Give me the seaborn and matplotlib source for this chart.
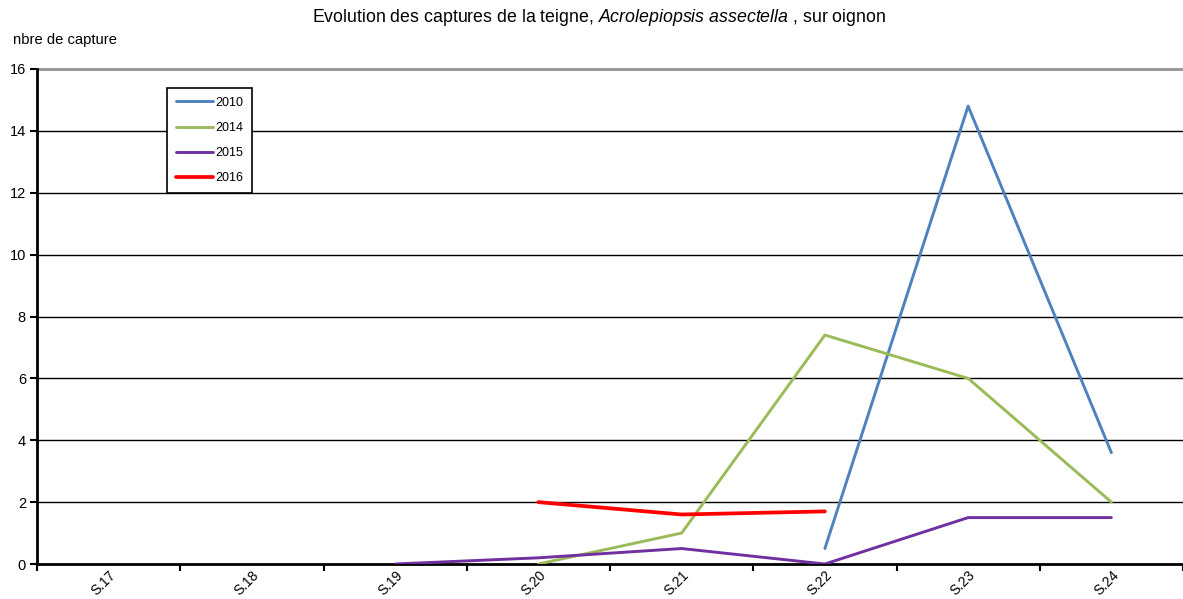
import seaborn as sns
import matplotlib.pyplot as plt
import pandas as pd
import numpy as np
from matplotlib.ticker import FixedLocator, NullFormatter

weeks = ["S.17", "S.18", "S.19", "S.20", "S.21", "S.22", "S.23", "S.24"]
y2010 = [np.nan, np.nan, np.nan, np.nan, np.nan, 0.5, 14.8, 3.6]
y2014 = [np.nan, np.nan, np.nan, 0.0, 1.0, 7.4, 6.0, 2.0]
y2015 = [np.nan, np.nan, 0.0, 0.2, 0.5, 0.0, 1.5, 1.5]
y2016 = [np.nan, np.nan, np.nan, 2.0, 1.6, 1.7, np.nan, np.nan]
years = ["2010", "2014", "2015", "2016"]
colors = ["#4F81BD", "#9BBB59", "#7030A0", "#FF0000"]
widths = [2.1, 2.1, 2.1, 2.7]

sns.set_style("white")
plt.rcParams['font.family'] = ['Liberation Sans', 'DejaVu Sans']
plt.rcParams['mathtext.fontset'] = 'custom'
plt.rcParams['mathtext.rm'] = 'Liberation Sans'
plt.rcParams['mathtext.it'] = 'Liberation Sans:italic'
for k in ['text.color', 'xtick.color', 'ytick.color', 'axes.labelcolor']:
    plt.rcParams[k] = 'black'

df = pd.DataFrame({"week": weeks, "2010": y2010, "2014": y2014, "2015": y2015, "2016": y2016})
df["pos"] = range(len(weeks))
long = df.melt(id_vars=["week", "pos"], value_vars=years, var_name="annee", value_name="n").dropna()

fig = plt.figure(figsize=(11.83, 5.99), dpi=100)
ax = fig.add_axes([37 / 1183, 1 - 564 / 599, 1 - 37 / 1183, (564 - 69) / 599])

for yr, c, lw in zip(years, colors, widths):
    sub = long[long["annee"] == yr]
    sns.lineplot(data=sub, x="pos", y="n", ax=ax, color=c, linewidth=lw, label=yr, zorder=4)

ax.set_xlim(-0.5, len(weeks) - 0.5)
ax.set_ylim(0, 16)
ax.set_yticks(range(0, 17, 2))
for v in range(2, 16, 2):
    ax.axhline(v, color="black", linewidth=1.0, zorder=1)
ax.axhline(16, color="#999999", linewidth=2.2, zorder=1, clip_on=False)

ax.xaxis.set_major_locator(FixedLocator(np.arange(-0.5, len(weeks), 1)))
ax.xaxis.set_major_formatter(NullFormatter())
ax.xaxis.set_minor_locator(FixedLocator(range(len(weeks))))
ax.set_xticklabels(weeks, minor=True, rotation=45, ha="right", va="top", rotation_mode="anchor", fontsize=10)
ax.tick_params(axis="x", which="major", direction="out", length=5, width=1.5, color="black", bottom=True)
ax.tick_params(axis="x", which="minor", length=0, pad=3)
ax.tick_params(axis="y", direction="out", length=5, width=1.5, color="black", left=True, labelsize=10.5, pad=3)

for s in ["top", "right"]:
    ax.spines[s].set_visible(False)
ax.spines["left"].set_color("black")
ax.spines["left"].set_linewidth(2)
ax.spines["bottom"].set_color("black")
ax.spines["bottom"].set_linewidth(2)
ax.set_xlabel("")
ax.set_ylabel("")

leg = ax.legend(loc="upper left", bbox_to_anchor=(167 / 1183, 1 - 88 / 599), bbox_transform=fig.transFigure,
                fontsize=9, frameon=True, fancybox=False, framealpha=1, edgecolor="black",
                handlelength=3.0, handletextpad=0.2, labelspacing=1.05, borderpad=0.7, borderaxespad=0)
leg.get_frame().set_linewidth(1.2)

fig.text(599 / 1183, 1 - 18 / 599,
         r"Evolution des captures de la teigne, $\mathit{Acrolepiopsis\ assectella}$ , sur oignon",
         ha="center", va="center", fontsize=12.8)
fig.text(13 / 1183, 1 - 40 / 599, "nbre de capture", ha="left", va="center", fontsize=10.6)

plt.savefig("out.png", dpi=100)
